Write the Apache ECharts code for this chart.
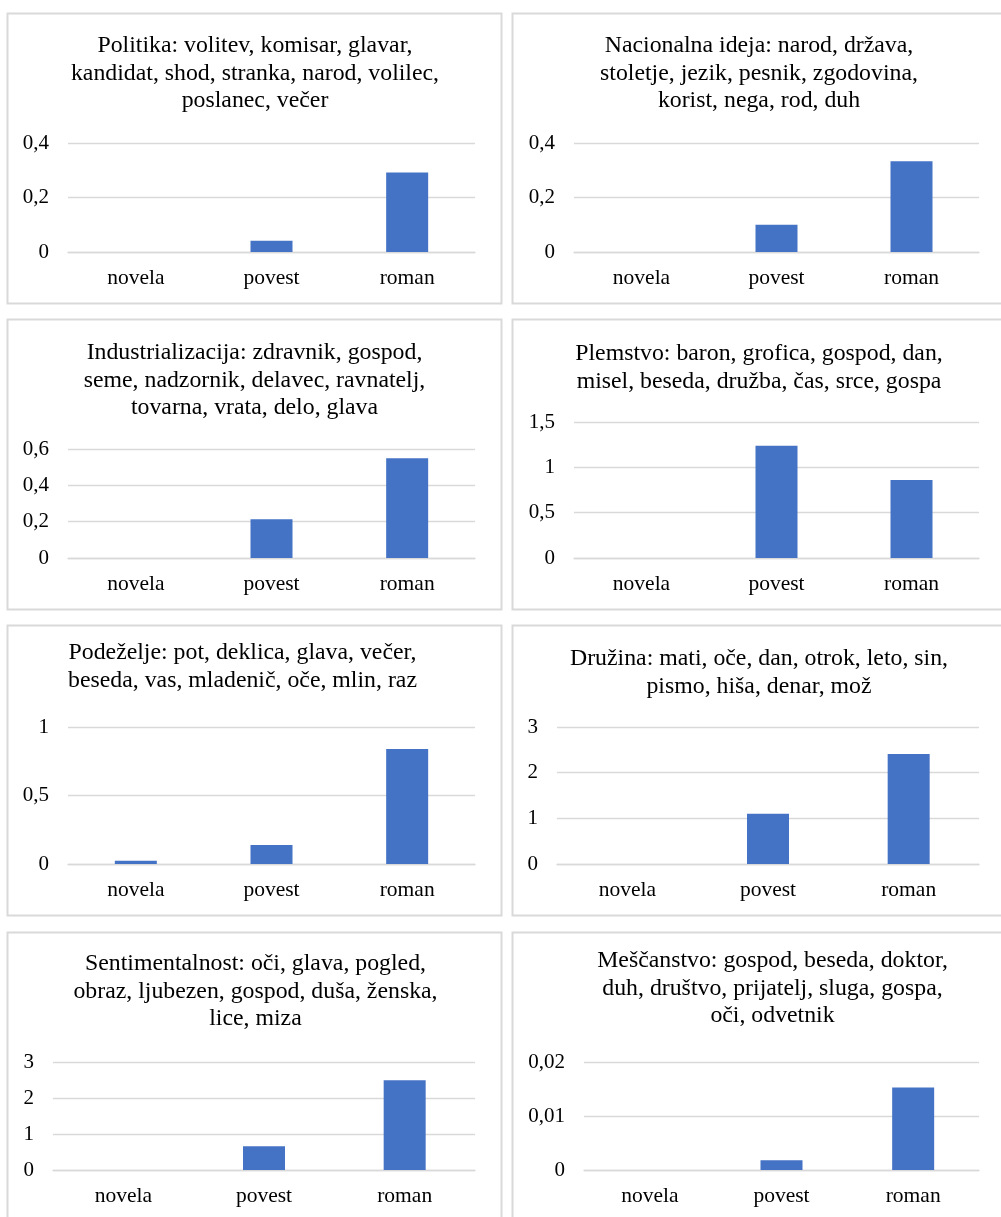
<!DOCTYPE html>
<html>
<head>
<meta charset="utf-8">
<script src="https://cdn.jsdelivr.net/npm/echarts@6/dist/echarts.min.js"></script>
<style>
html,body{margin:0;padding:0;background:#fff;}
#c{width:1001px;height:1217px;}
</style>
</head>
<body>
<div id="c"></div>
<script>
// ---- data ----
const categories = ['novela', 'povest', 'roman'];

const titles = [
  'Politika: volitev, komisar, glavar,\nkandidat, shod, stranka, narod, volilec,\nposlanec, večer',
  'Nacionalna ideja: narod, država,\nstoletje, jezik, pesnik, zgodovina,\nkorist, nega, rod, duh',
  'Industrializacija: zdravnik, gospod,\nseme, nadzornik, delavec, ravnatelj,\ntovarna, vrata, delo, glava',
  'Plemstvo: baron, grofica, gospod, dan,\nmisel, beseda, družba, čas, srce, gospa',
  'Podeželje: pot, deklica, glava, večer,\nbeseda, vas, mladenič, oče, mlin, raz',
  'Družina: mati, oče, dan, otrok, leto, sin,\npismo, hiša, denar, mož',
  'Sentimentalnost: oči, glava, pogled,\nobraz, ljubezen, gospod, duša, ženska,\nlice, miza',
  'Meščanstvo: gospod, beseda, doktor,\nduh, društvo, prijatelj, sluga, gospa,\noči, odvetnik'
];

const politika        = [0, 0.041, 0.292];
const nacionalnaIdeja = [0, 0.1, 0.333];
const industrializacija = [0, 0.213, 0.549];
const plemstvo        = [0, 1.239, 0.861];
const podezelje       = [0.024, 0.139, 0.84];
const druzina         = [0, 1.1, 2.41];
const sentimentalnost = [0, 0.66, 2.49];
const mescanstvo      = [0, 0.0018, 0.0153];

const seriesData = [politika, nacionalnaIdeja, industrializacija, plemstvo,
                    podezelje, druzina, sentimentalnost, mescanstvo];

const yMax      = [0.4, 0.4, 0.6, 1.5, 1, 3, 3, 0.02];
const yInterval = [0.2, 0.2, 0.2, 0.5, 0.5, 1, 1, 0.01];

// ---- layout (pixels) ----
// plot area: [x0, x1, yTop, yZero]
const plots = [
  [68, 475, 143, 252],
  [574, 979, 143, 252],
  [68, 475, 449, 558],
  [574, 979, 422, 558],
  [68, 475, 727, 864],
  [557, 979, 727, 864],
  [53, 475, 1062, 1170],
  [584, 979, 1062, 1170]
];
// title: [centerX, top]
const titlePos = [
  [255, 32], [759, 32],
  [254.5, 339], [759, 340],
  [242.5, 639], [759, 645],
  [255.5, 950], [772.5, 947]
];
// panel frames: [x, y, w, h]
const frames = [
  [7.5, 13.5, 494, 290], [512.5, 13.5, 500, 290],
  [7.5, 319.5, 494, 290], [512.5, 319.5, 500, 290],
  [7.5, 625.5, 494, 290], [512.5, 625.5, 500, 290],
  [7.5, 932.5, 494, 300], [512.5, 932.5, 500, 300]
];

const W = 1001, H = 1217;
const FONT = '"Liberation Serif", "Times New Roman", serif';
const fmt = v => String(+(+v).toFixed(4)).replace('.', ',');

const option = {
  backgroundColor: '#fff',
  animation: false,
  title: titles.map((t, i) => ({
    text: t,
    left: titlePos[i][0],
    top: titlePos[i][1],
    textAlign: 'center',
    padding: 0,
    textStyle: {
      fontFamily: FONT, fontSize: 23.8, fontWeight: 'normal',
      color: '#000', lineHeight: 27.5
    }
  })),
  grid: plots.map(p => ({
    left: p[0], width: p[1] - p[0],
    top: p[2], height: p[3] - p[2],
    containLabel: false
  })),
  xAxis: plots.map((p, i) => ({
    type: 'category', gridIndex: i, data: categories,
    axisLine: { show: true, lineStyle: { color: '#d9d9d9', width: 1.3 } },
    axisTick: { show: false },
    axisLabel: { fontFamily: FONT, fontSize: 21.5, color: '#000', margin: 15 },
    splitLine: { show: false }
  })),
  yAxis: plots.map((p, i) => ({
    type: 'value', gridIndex: i, min: 0, max: yMax[i], interval: yInterval[i],
    axisLine: { show: false }, axisTick: { show: false },
    axisLabel: { fontFamily: FONT, fontSize: 21, color: '#000', margin: 19, formatter: fmt },
    splitLine: { show: true, lineStyle: { color: '#d9d9d9', width: 1.3 } }
  })),
  series: seriesData.map((d, i) => ({
    type: 'bar', xAxisIndex: i, yAxisIndex: i, data: d,
    barWidth: 42,
    itemStyle: { color: '#4472c4' },
    silent: true
  })),
  graphic: frames.map(f => ({
    type: 'rect', silent: true, z: -1,
    shape: { x: f[0], y: f[1], width: f[2], height: f[3] },
    style: { fill: 'none', stroke: '#d9d9d9', lineWidth: 2 }
  }))
};

const chart = echarts.init(document.getElementById('c'), null, { renderer: 'canvas', width: W, height: H });
chart.setOption(option);
</script>
</body>
</html>
